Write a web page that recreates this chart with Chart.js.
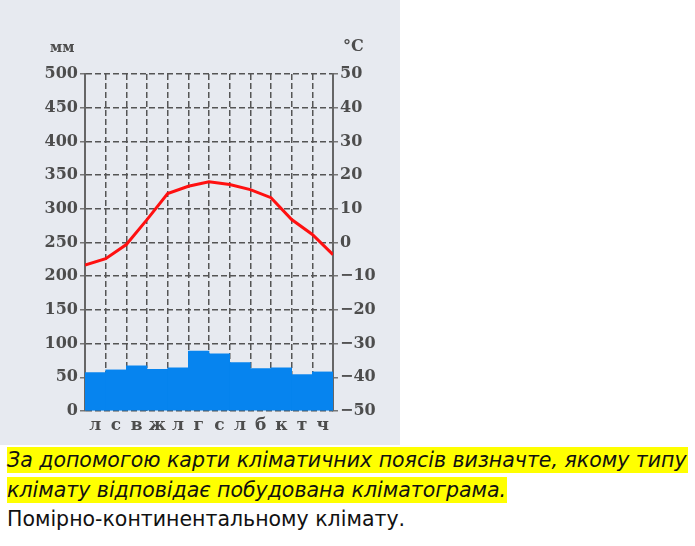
<!DOCTYPE html>
<html>
<head>
<meta charset="utf-8">
<script src="https://cdn.jsdelivr.net/npm/chart.js@4/dist/chart.umd.min.js"></script>
<style>
    body { margin: 0; width: 695px; height: 546px; background: #fff; position: relative; overflow: hidden; }
    #panel { position: absolute; left: 0; top: 0; width: 400px; height: 445px; background: #e7eaf0; }
    #chart-box { position: absolute; left: 0; top: 0; width: 400px; height: 445px; }
    .unit { position: absolute; font-family: "DejaVu Serif", serif; font-weight: bold; color: #4d4d4d; }
    .line { position: absolute; left: 7px; font-family: "DejaVu Sans", sans-serif; font-size: 20.5px; line-height: 26px; color: #111; white-space: nowrap; }
    .hl { display: inline-block; background: #ffff00; font-style: italic; padding-right: 1px; }
</style>
</head>
<body>
<div id="panel"></div>
<div id="chart-box"><canvas id="climate-chart"></canvas></div>
<span class="unit" style="left:50px; top:39px; font-size:14px;">мм</span>
<span class="unit" style="left:343px; top:36px; font-size:16px;">°C</span>

<div class="line" style="top:447px;"><span class="hl">За допомогою карти кліматичних поясів визначте, якому типу</span></div>
<div class="line" style="top:477px;"><span class="hl">клімату відповідає побудована кліматограма.</span></div>
<div class="line" style="top:506px;">Помірно-континентальному клімату.</div>

<script>
// --- DATA ---
const months = ['л', 'с', 'в', 'ж', 'л', 'г', 'с', 'л', 'б', 'к', 'т', 'ч'];
const precipitation = [57, 61, 67, 62, 64, 89, 85, 72, 63, 64, 54, 58]; // mm
// temperature read at the month boundaries (13 points, start of Jan .. end of Dec)
const temperature = [-6.7, -4.8, -0.6, 6.8, 14.5, 16.7, 18, 17.2, 15.7, 13.3, 6.8, 2.4, -3.6];

const tickFont = { family: 'DejaVu Serif', size: 16, weight: 'bold' };
const tickColor = '#4d4d4d';
const gridColor = '#555';

const ctx = document.getElementById('climate-chart');

new Chart(ctx, {
    type: 'bar',
    data: {
        labels: months,
        datasets: [
            {
                type: 'line',
                data: temperature.map((t, i) => ({ x: i, y: t })),
                xAxisID: 'x2',
                yAxisID: 'yT',
                borderColor: '#ff1010',
                borderWidth: 3,
                pointRadius: 0,
                tension: 0,
                order: 0
            },
            {
                type: 'bar',
                data: precipitation,
                xAxisID: 'x',
                yAxisID: 'y',
                backgroundColor: '#0684ef',
                borderWidth: 0,
                grouped: false,
                categoryPercentage: 1.0,
                barPercentage: 1.0,
                order: 1
            }
        ]
    },
    options: {
        responsive: true,
        maintainAspectRatio: false,
        animation: false,
        datasets: { bar: { categoryPercentage: 1.0, barPercentage: 1.0 } },
        layout: { padding: { top: 74, left: 0, right: 0, bottom: 0 } },
        plugins: { legend: { display: false }, tooltip: { enabled: false } },
        scales: {
            x: {
                offset: true,
                grid: { color: gridColor, lineWidth: 1.5, drawTicks: false, offset: true },
                border: { display: false, dash: [6, 3] },
                ticks: { font: { family: 'DejaVu Serif', size: 17, weight: 'bold' }, color: tickColor, padding: 4, autoSkip: false, maxRotation: 0, minRotation: 0 },
                afterFit: s => { s.height = 34; }
            },
            x2: {
                type: 'linear',
                display: false,
                offset: false,
                min: 0,
                max: 12
            },
            y: {
                position: 'left',
                min: 0,
                max: 500,
                ticks: { stepSize: 50, font: tickFont, color: tickColor, padding: 2 },
                grid: { color: gridColor, lineWidth: 1.5, tickLength: 5, tickColor: '#777', tickWidth: 1.5 },
                border: { display: true, color: '#666', width: 2, dash: [6, 3] },
                afterFit: s => { s.width = 85; }
            },
            yT: {
                position: 'right',
                min: -50,
                max: 50,
                ticks: {
                    stepSize: 10,
                    font: tickFont,
                    color: tickColor,
                    padding: 2,
                    callback: v => (v < 0 ? '\u2212' + Math.abs(v) : String(v))
                },
                grid: { drawOnChartArea: false, tickLength: 5, color: '#777', lineWidth: 1.5 },
                border: { display: true, color: '#666', width: 2 },
                afterFit: s => { s.width = 67; }
            }
        }
    }
});
</script>
</body>
</html>
